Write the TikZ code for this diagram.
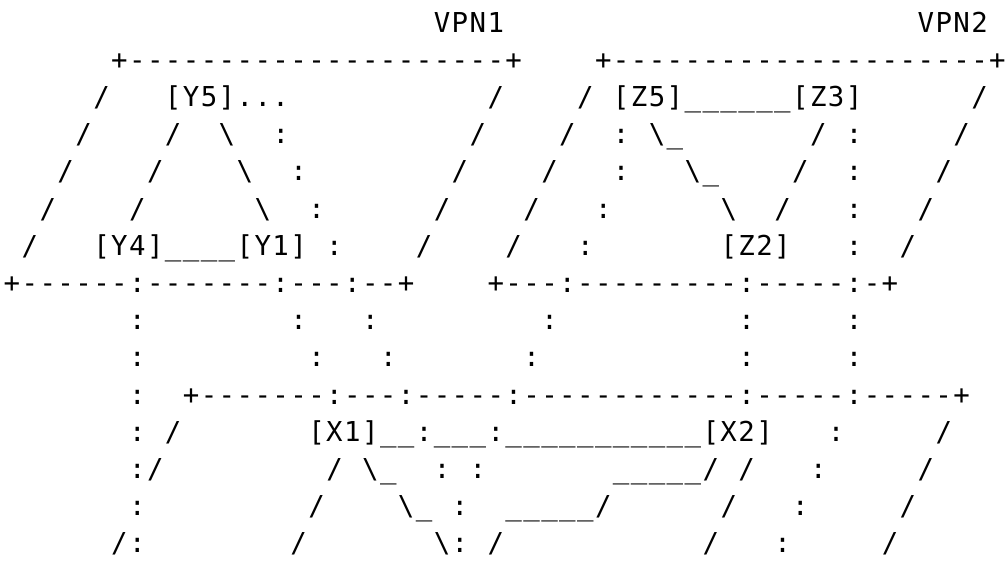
\documentclass[tikz,border=0pt]{standalone}
\usepackage{fontspec}
\setmonofont{DejaVu Sans Mono}

% ancho fijo de cada caracter
\newlength\ancho
\setlength\ancho{17.92pt}
\def\asciilinea#1{\expandafter\asciichar#1\relax}
\def\asciichar#1{\ifx#1\relax\else\hbox to\ancho{\hss#1\hss}\expandafter\asciichar\fi}

% lineas del dibujo (espacios activos)
\begingroup
\catcode`\|=0 \catcode`\_=12 \catcode`\\=12 %
|catcode`| =13|gdef {}%
|gdef|lineaA{                        VPN1                       VPN2}%
|gdef|lineaB{      +---------------------+    +---------------------+}%
|gdef|lineaC{     /   [Y5]...           /    / [Z5]______[Z3]      /}%
|gdef|lineaD{    /    /  \  :          /    /  : \_       / :     /}%
|gdef|lineaE{   /    /    \  :        /    /   :   \_    /  :    /}%
|gdef|lineaF{  /    /      \  :      /    /   :      \  /   :   /}%
|gdef|lineaG{ /   [Y4]____[Y1] :    /    /   :       [Z2]   :  /}%
|gdef|lineaH{+------:-------:---:--+    +---:---------:-----:-+}%
|gdef|lineaI{       :        :   :         :          :     :}%
|gdef|lineaJ{       :         :   :       :           :     :}%
|gdef|lineaK{       :  +-------:---:-----:------------:-----:-----+}%
|gdef|lineaL{       : /       [X1]__:___:___________[X2]   :     /}%
|gdef|lineaM{       :/         / \_  : :       _____/ /   :     /}%
|gdef|lineaN{       :         /    \_ :  _____/      /   :     /}%
|gdef|lineaO{      /:        /       \: /           /   :     /}%
|endgroup

\tikzset{
  linea/.style={anchor=base west, inner sep=0pt, outer sep=0pt,
    font=\ttfamily\fontsize{27.4}{30}\selectfont}
}

\begin{document}
\begin{tikzpicture}[x=1pt,y=-1pt]
    \useasboundingbox (0,0) rectangle (1006,563);

    % Etiquetas VPN1 y VPN2
    \node[linea] (l0) at (3,32) {\asciilinea\lineaA};

    % Planos de VPN1 y VPN2
    \node[linea] (l1) at (3,69.2) {\asciilinea\lineaB};
    \node[linea] (l2) at (3,106.4) {\asciilinea\lineaC};
    \node[linea] (l3) at (3,143.6) {\asciilinea\lineaD};
    \node[linea] (l4) at (3,180.8) {\asciilinea\lineaE};
    \node[linea] (l5) at (3,218) {\asciilinea\lineaF};
    \node[linea] (l6) at (3,255.2) {\asciilinea\lineaG};
    \node[linea] (l7) at (3,292.4) {\asciilinea\lineaH};

    % Enlaces hacia abajo
    \node[linea] (l8) at (3,329.6) {\asciilinea\lineaI};
    \node[linea] (l9) at (3,366.8) {\asciilinea\lineaJ};

    % Plano inferior con X1 y X2
    \node[linea] (l10) at (3,404) {\asciilinea\lineaK};
    \node[linea] (l11) at (3,441.2) {\asciilinea\lineaL};
    \node[linea] (l12) at (3,478.4) {\asciilinea\lineaM};
    \node[linea] (l13) at (3,515.6) {\asciilinea\lineaN};
    \node[linea] (l14) at (3,552.8) {\asciilinea\lineaO};

\end{tikzpicture}
\end{document}
